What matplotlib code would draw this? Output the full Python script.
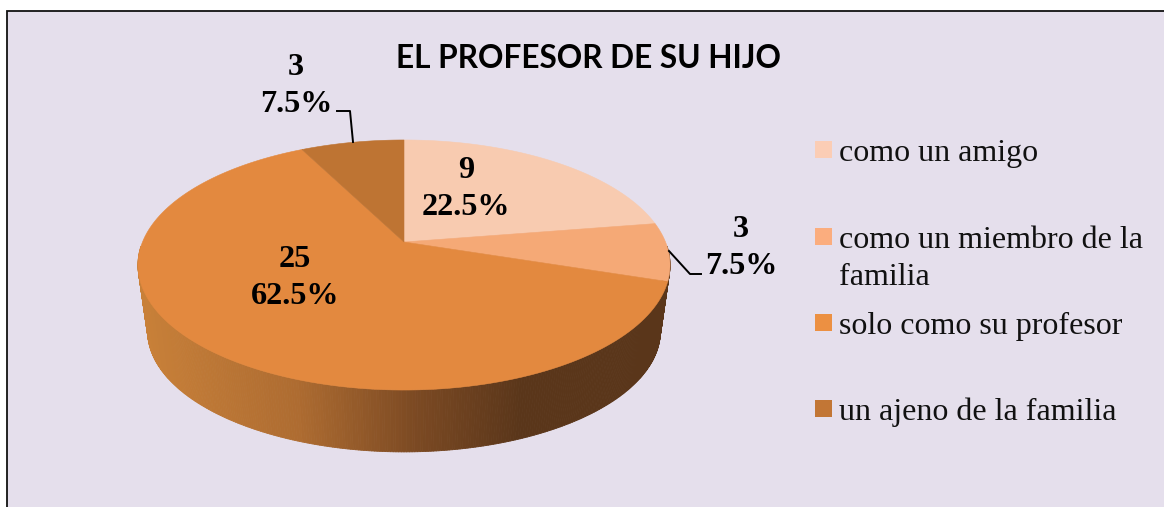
import numpy as np
import matplotlib.pyplot as plt
from matplotlib.collections import PolyCollection
from matplotlib.colors import LinearSegmentedColormap
from matplotlib.patches import Polygon, Rectangle

categories = ["como un amigo", "como un miembro de la\nfamilia", "solo como su profesor", "un ajeno de la familia"]
counts = [9, 3, 25, 3]
percents = ["22.5%", "7.5%", "62.5%", "7.5%"]
title = "EL PROFESOR DE SU HIJO"

slice_colors = ["#F8CBB0", "#F5A976", "#E3893F", "#BE7433"]
legend_colors = ["#FBCDB5", "#FBAD7E", "#EC9042", "#C27635"]
bg = "#E5DFEC"

# the pie is drawn in pixel coordinates of the picture
W, H = 1164, 507
fig = plt.figure(figsize=(W / 100, H / 100), dpi=100, facecolor="white")
ax = fig.add_axes([0, 0, 1, 1])
ax.set_xlim(0, W)
ax.set_ylim(H, 0)
ax.axis("off")

# frame, only left and top are in the crop
ax.add_patch(Rectangle((6.5, 10.5), W, H, facecolor=bg, edgecolor="#111111", linewidth=1.3))


def rim(theta, cy, a, b):
    # theta runs clockwise from the top of the pie, far side is squeezed
    u = np.sin(theta)
    v = np.cos(theta)
    w = 1 + 0.184 * v
    return 404 + a * u / w, cy - b * v / w


# side wall of the pie, shaded left to right
theta = np.radians(np.linspace(92, 268, 353))
x1, y1 = rim(theta, 242, 261.5, 120.8)
x2, y2 = rim(theta, 309, 252, 116.6)
quads = []
for i in range(len(theta) - 1):
    quads.append([(x1[i], y1[i]), (x1[i + 1], y1[i + 1]), (x2[i + 1], y2[i + 1]), (x2[i], y2[i])])
quads = np.array(quads)
cmap = LinearSegmentedColormap.from_list(
    "side", [(0, "#C98139"), (0.3, "#AE6C31"), (0.52, "#7C4A23"), (0.72, "#5A361A"), (1, "#5A361A")]
)
shade = (quads[:, :, 0].mean(axis=1) - 137) / (670 - 137)
side = PolyCollection(quads, facecolors=cmap(shade), edgecolors=cmap(shade), linewidths=0.6)
ax.add_collection(side)

# top of the pie from the counts
edges = np.cumsum([0] + counts) / sum(counts) * 2 * np.pi
for i in range(len(counts)):
    t = np.linspace(edges[i], edges[i + 1], 150)
    x, y = rim(t, 242, 261.5, 120.8)
    pts = np.column_stack([np.r_[404, x], np.r_[242, y]])
    ax.add_patch(Polygon(pts, closed=True, facecolor=slice_colors[i], edgecolor=slice_colors[i], linewidth=0.4))

# leader lines
ax.plot([337, 350, 353], [111, 111, 142], color="black", linewidth=1.4)
ax.plot([669, 690, 701], [251, 274, 274], color="black", linewidth=1.4)

# data labels
label_x = [466, 741, 295, 296]
label_y = [189, 248, 278, 86]
for i in range(len(counts)):
    ax.text(label_x[i], label_y[i], f"{counts[i]}\n{percents[i]}", ha="center", va="center",
            family="Liberation Serif", fontweight="bold", fontsize=23.2, color="black", linespacing=1.4)

ax.text(588, 58, title, ha="center", va="center", family="Lato", fontweight="bold", fontsize=22.8, color="black")

# legend
legend_y = [149.5, 236.5, 322.5, 408.5]
for i in range(len(categories)):
    ax.add_patch(Rectangle((815, legend_y[i] - 8.5), 17, 17, facecolor=legend_colors[i], edgecolor="none"))
    ax.text(839, legend_y[i] - 11, categories[i], ha="left", va="top", family="Liberation Serif",
            fontsize=23, color="#111111", linespacing=1.38)

fig.savefig("out.png", dpi=100, facecolor="white")
